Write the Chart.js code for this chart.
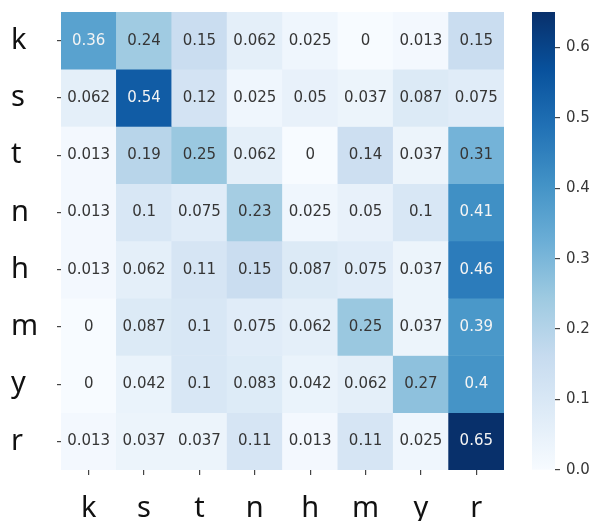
<!DOCTYPE html>
<html>
<head>
<meta charset="utf-8">
<script src="https://cdn.jsdelivr.net/npm/chart.js@4.4.0/dist/chart.umd.min.js"></script>
<style>
  html, body { margin: 0; padding: 0; background: #ffffff; }
  #wrap { position: relative; width: 598px; height: 521px; overflow: hidden; }
  #main { position: absolute; left: 0; top: 0; }
  #cbar { position: absolute; left: 532px; top: 0; }
</style>
</head>
<body>
<div id="wrap">
  <canvas id="main" width="598" height="521"></canvas>
  <canvas id="cbar" width="66" height="521"></canvas>
</div>
<script>
// ---- data ----
const colLabels = ['k', 's', 't', 'n', 'h', 'm', 'y', 'r'];
const rowLabels = ['k', 's', 't', 'n', 'h', 'm', 'y', 'r'];
const rowK = [0.36, 0.24, 0.15, 0.062, 0.025, 0, 0.013, 0.15];
const rowS = [0.062, 0.54, 0.12, 0.025, 0.05, 0.037, 0.087, 0.075];
const rowT = [0.013, 0.19, 0.25, 0.062, 0, 0.14, 0.037, 0.31];
const rowN = [0.013, 0.1, 0.075, 0.23, 0.025, 0.05, 0.1, 0.41];
const rowH = [0.013, 0.062, 0.11, 0.15, 0.087, 0.075, 0.037, 0.46];
const rowM = [0, 0.087, 0.1, 0.075, 0.062, 0.25, 0.037, 0.39];
const rowY = [0, 0.042, 0.1, 0.083, 0.042, 0.062, 0.27, 0.4];
const rowR = [0.013, 0.037, 0.037, 0.11, 0.013, 0.11, 0.025, 0.65];
const matrix = [rowK, rowS, rowT, rowN, rowH, rowM, rowY, rowR];
const colorbarTicks = [0, 0.1, 0.2, 0.3, 0.4, 0.5, 0.6];

// ---- colormap (matplotlib Blues) ----
const blues = ['#f7fbff', '#deebf7', '#c6dbef', '#9ecae1', '#6baed6', '#4292c6', '#2171b5', '#08519c', '#08306b'];
const bluesRGB = blues.map(h => [parseInt(h.slice(1, 3), 16), parseInt(h.slice(3, 5), 16), parseInt(h.slice(5, 7), 16)]);
const vmin = 0;
const vmax = Math.max(...matrix.flat());
function cmap(v) {
  let t = (v - vmin) / (vmax - vmin);
  t = Math.max(0, Math.min(1, t));
  const p = t * (bluesRGB.length - 1);
  const i = Math.min(Math.floor(p), bluesRGB.length - 2);
  const f = p - i;
  const a = bluesRGB[i], b = bluesRGB[i + 1];
  return [0, 1, 2].map(k => Math.round(a[k] + (b[k] - a[k]) * f));
}
function rgbStr(c) { return 'rgb(' + c[0] + ',' + c[1] + ',' + c[2] + ')'; }
function luminance(c) {
  const lin = c.map(x => { x = x / 255; return x <= 0.03928 ? x / 12.92 : Math.pow((x + 0.055) / 1.055, 2.4); });
  return 0.2126 * lin[0] + 0.7152 * lin[1] + 0.0722 * lin[2];
}

// ---- main heatmap: stacked bars, one dataset per row ----
const datasets = matrix.map((row, r) => ({
  label: rowLabels[r],
  data: row.map(() => 1),
  values: row,
  backgroundColor: row.map(v => rgbStr(cmap(v))),
  borderWidth: 0,
  barPercentage: 1,
  categoryPercentage: 1,
  stack: 's'
}));

const cellText = {
  id: 'cellText',
  afterDatasetsDraw(chart) {
    const ctx = chart.ctx;
    ctx.save();
    ctx.font = '15px "DejaVu Sans"';
    ctx.textAlign = 'center';
    ctx.textBaseline = 'middle';
    chart.data.datasets.forEach((ds, di) => {
      const meta = chart.getDatasetMeta(di);
      meta.data.forEach((el, i) => {
        const v = ds.values[i];
        const c = cmap(v);
        ctx.fillStyle = luminance(c) > 0.408 ? '#363636' : '#f4f4f4';
        const p = el.getCenterPoint();
        ctx.fillText(String(v), p.x, p.y);
      });
    });
    ctx.restore();
  }
};

new Chart(document.getElementById('main'), {
  type: 'bar',
  data: { labels: colLabels, datasets: datasets },
  options: {
    responsive: false,
    animation: false,
    layout: { padding: { left: 11, top: 12, right: 94, bottom: 0 } },
    plugins: { legend: { display: false }, tooltip: { enabled: false } },
    scales: {
      x: {
        stacked: true,
        grid: { display: true, offset: false, drawOnChartArea: false, drawTicks: true, tickLength: 5, tickColor: '#444', lineWidth: 1.2 },
        border: { display: false },
        ticks: { color: '#111', font: { family: '"Noto Sans"', size: 29 }, padding: 16, maxRotation: 0 },
        afterFit(s) { s.height = 51; s.paddingLeft = 0; s.paddingRight = 0; }
      },
      y: {
        type: 'linear',
        stacked: true,
        min: 0,
        max: 8,
        reverse: true,
        grid: { display: true, drawOnChartArea: false, drawTicks: true, tickLength: 4, tickColor: '#444', lineWidth: 1.2 },
        border: { display: false },
        afterBuildTicks(s) { s.ticks = rowLabels.map((l, i) => ({ value: i + 0.5 })); },
        ticks: {
          color: '#111',
          font: { family: '"Noto Sans"', size: 29 },
          crossAlign: 'far',
          callback: (v, i) => rowLabels[i]
        },
        afterFit(s) { s.width = 50; s.paddingTop = 0; s.paddingBottom = 0; }
      }
    }
  },
  plugins: [cellText]
});

// ---- colorbar ----
new Chart(document.getElementById('cbar'), {
  type: 'bar',
  data: {
    labels: ['cb'],
    datasets: [{
      data: [[vmin, vmax]],
      borderWidth: 0,
      barPercentage: 1,
      categoryPercentage: 1,
      backgroundColor(ctx) {
        const area = ctx.chart.chartArea;
        if (!area) return blues[4];
        const g = ctx.chart.ctx.createLinearGradient(0, area.bottom, 0, area.top);
        blues.forEach((c, i) => g.addColorStop(i / (blues.length - 1), c));
        return g;
      }
    }]
  },
  options: {
    responsive: false,
    animation: false,
    layout: { padding: { left: 0, top: 12, right: 0, bottom: 51 } },
    plugins: { legend: { display: false }, tooltip: { enabled: false } },
    scales: {
      x: { display: false },
      y: {
        position: 'right',
        min: vmin,
        max: vmax,
        grid: { display: true, drawOnChartArea: false, drawTicks: true, tickLength: 5, tickColor: '#444', lineWidth: 1.2 },
        border: { display: false },
        afterBuildTicks(s) { s.ticks = colorbarTicks.map(v => ({ value: v })); },
        ticks: { color: '#363636', font: { family: '"DejaVu Sans"', size: 15 }, padding: 6, callback: v => v.toFixed(1) },
        afterFit(s) { s.width = 43; s.paddingTop = 0; s.paddingBottom = 0; }
      }
    }
  }
});
</script>
</body>
</html>
